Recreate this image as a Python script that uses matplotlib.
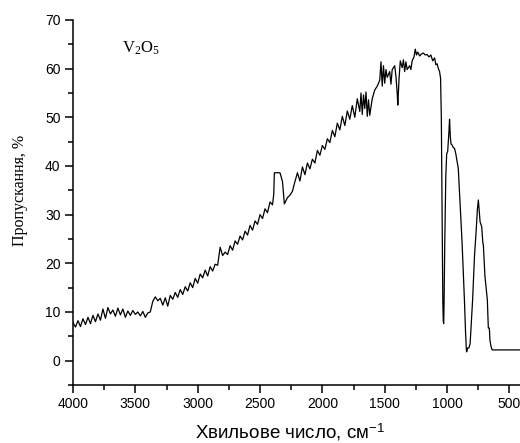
"""IR transmission spectrum of V2O5 (Origin-style, reversed wavenumber axis)."""
import matplotlib
matplotlib.use("Agg")
import matplotlib.pyplot as plt
from matplotlib.ticker import MultipleLocator

plt.rcParams.update({'font.family': ['Liberation Sans', 'DejaVu Sans'],
                     'mathtext.fontset': 'custom',
                     'mathtext.rm': 'Liberation Serif',
                     'mathtext.it': 'Liberation Serif:italic'})

# wavenumber, cm^-1
wn = [4000, 3980, 3960, 3940, 3920, 3900, 3880, 3860, 3840, 3820, 3800, 3780, 3760, 3740,
      3720, 3700, 3680, 3660, 3640, 3620, 3600, 3580, 3560, 3540, 3520, 3500, 3480, 3460,
      3440, 3420, 3400, 3380, 3360, 3340, 3320, 3300, 3280, 3260, 3240, 3220, 3200, 3180,
      3160, 3140, 3120, 3100, 3080, 3060, 3040, 3020, 3000, 2980, 2960, 2940, 2920, 2900,
      2880, 2860, 2840, 2820, 2800, 2780, 2760, 2740, 2720, 2700, 2680, 2660, 2640, 2620,
      2600, 2580, 2560, 2540, 2520, 2500, 2480, 2460, 2440, 2420, 2400, 2390, 2385, 2340,
      2320, 2305, 2280, 2260, 2240, 2220, 2200, 2180, 2160, 2140, 2120, 2100, 2080, 2060,
      2040, 2020, 2000, 1980, 1960, 1940, 1920, 1900, 1880, 1860, 1840, 1820, 1800, 1780,
      1760, 1740, 1720, 1700, 1690, 1680, 1670, 1660, 1650, 1640, 1630, 1620, 1600, 1580,
      1560, 1540, 1530, 1520, 1510, 1500, 1490, 1480, 1460, 1450, 1440, 1420, 1410, 1400,
      1395, 1385, 1375, 1360, 1350, 1340, 1330, 1320, 1300, 1290, 1280, 1265, 1255, 1245,
      1235, 1220, 1205, 1190, 1175, 1160, 1145, 1130, 1115, 1100, 1090, 1080, 1070, 1060,
      1052, 1046, 1040, 1034, 1030, 1027, 1024, 1018, 1010, 1003, 995, 985, 980, 974,
      968, 960, 950, 940, 930, 920, 910, 900, 890, 880, 870, 860, 852, 845, 843,
      835, 825, 815, 805, 795, 789, 780, 767, 757, 749, 740, 735, 722, 713, 709,
      696, 677, 669, 661, 656, 648, 640, 637, 415]

# transmission, %
trans = [7.8, 6.9, 8.2, 7.0, 8.6, 7.4, 8.9, 7.6, 9.3, 8.0, 9.6, 8.3, 10.6, 8.7,
         10.9, 9.6, 10.4, 9.1, 10.8, 9.4, 10.6, 8.9, 10.2, 9.3, 10.3, 9.5, 10.0, 9.2,
         10.1, 8.9, 9.8, 10.0, 12.2, 13.1, 12.3, 12.8, 11.4, 12.9, 11.2, 13.4, 12.6, 14.0,
         13.0, 14.6, 13.6, 15.2, 14.3, 16.0, 15.0, 16.9, 15.9, 17.8, 17.0, 18.6, 17.4, 19.3,
         18.4, 19.8, 19.6, 23.3, 21.6, 22.3, 21.8, 23.6, 22.7, 24.6, 23.9, 25.6, 24.8, 26.6,
         25.8, 27.8, 26.8, 28.7, 28.0, 30.0, 29.2, 31.2, 30.4, 32.6, 32.0, 34.2, 38.6, 38.6,
         36.8, 32.2, 33.5, 34.0, 34.8, 36.8, 38.6, 36.9, 39.8, 38.2, 40.6, 39.4, 41.4, 40.6,
         43.2, 42.2, 44.2, 43.4, 45.6, 44.8, 47.3, 46.0, 48.8, 47.4, 50.2, 48.3, 51.3, 49.6,
         52.4, 50.0, 53.8, 51.2, 55.0, 50.6, 54.6, 51.8, 55.2, 50.2, 53.6, 50.4, 53.8, 55.6,
         56.4, 57.6, 61.4, 56.4, 60.6, 57.0, 59.8, 58.2, 59.4, 56.8, 59.8, 60.6, 58.4, 55.0,
         52.5, 58.0, 61.6, 60.2, 61.8, 59.4, 61.4, 59.8, 60.6, 59.8, 61.6, 62.4, 64.0, 62.8,
         63.4, 62.6, 63.0, 63.2, 62.8, 62.9, 62.4, 62.8, 61.6, 62.2, 60.8, 61.0, 60.0, 59.4,
         58.0, 50.0, 30.0, 12.0, 8.0, 7.6, 12.0, 25.0, 38.0, 42.5, 43.0, 47.0, 49.6, 46.0,
         44.5, 44.3, 43.8, 43.6, 42.5, 41.0, 39.5, 34.5, 29.5, 24.5, 18.5, 12.0, 6.0, 2.2, 1.8,
         2.6, 2.6, 3.5, 8.0, 12.5, 16.0, 21.5, 26.5, 31.0, 33.0, 30.0, 28.5, 27.5, 24.2, 23.8,
         17.3, 12.5, 6.7, 6.7, 4.2, 3.0, 2.3, 2.2, 2.2]

fig = plt.figure(figsize=(5.2, 4.43), dpi=100)
ax = fig.add_axes([0.1404, 0.131, 0.8596, 0.824])

ax.plot(wn, trans, color='black', lw=0.9)

ax.set_xlim(4000, 415)
ax.set_ylim(-5, 70)
ax.xaxis.set_major_locator(MultipleLocator(500))
ax.xaxis.set_minor_locator(MultipleLocator(250))
ax.yaxis.set_major_locator(MultipleLocator(10))
ax.yaxis.set_minor_locator(MultipleLocator(5))

for s in ('top', 'right'):
    ax.spines[s].set_visible(False)
for s in ('left', 'bottom'):
    ax.spines[s].set_linewidth(1.1)
ax.tick_params(which='major', direction='out', length=6, width=1.1, labelsize=10, pad=3)
ax.tick_params(which='minor', direction='out', length=3.5, width=1.1)

ax.set_xlabel('Хвильове число, см$^{\\mathregular{-1}}$', fontsize=13.5,
              family=['Liberation Sans', 'DejaVu Sans'])
ax.xaxis.label.set_va('center')
ax.xaxis.set_label_coords(0.485, -0.131)
ax.set_ylabel('Пропускання, %', fontsize=11.5, family=['Liberation Serif', 'DejaVu Serif'])
ax.yaxis.label.set_va('center')
ax.yaxis.label.set_ha('center')
ax.yaxis.set_label_coords(-0.1186, 0.534)

ax.text(3610, 64.2, 'V$_2$O$_5$', fontsize=12, va='center', ha='left',
        family=['Liberation Serif', 'DejaVu Serif'])

fig.savefig('out.png', dpi=100)
